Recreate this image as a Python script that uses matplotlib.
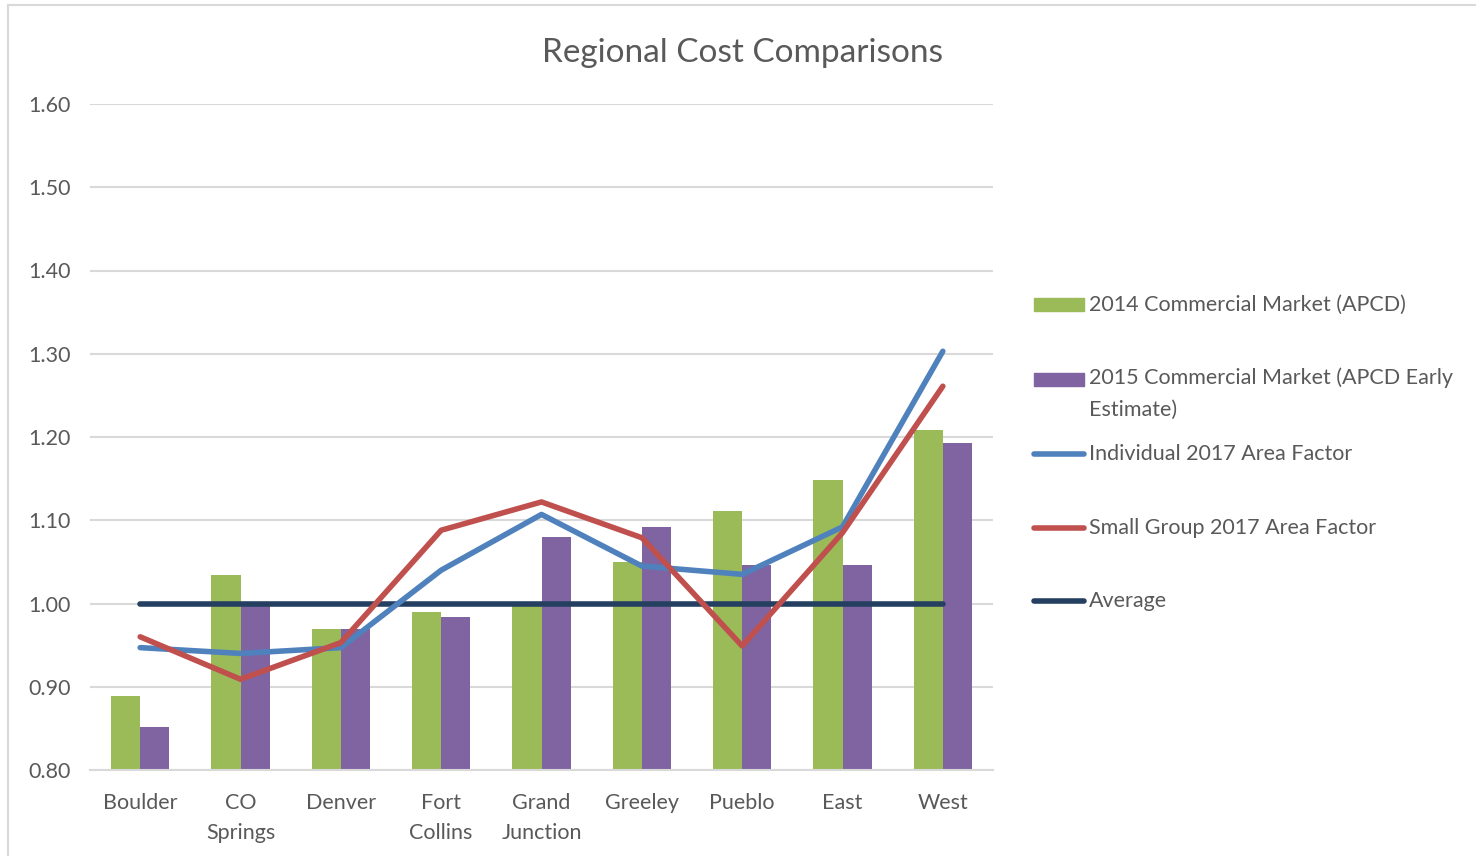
import matplotlib.pyplot as plt
import numpy as np
from matplotlib.lines import Line2D
from matplotlib.patches import Rectangle

plt.rcParams['font.family'] = ['Lato', 'DejaVu Sans']

regions = ['Boulder', 'CO\nSprings', 'Denver', 'Fort\nCollins', 'Grand\nJunction',
           'Greeley', 'Pueblo', 'East', 'West']
market_2014 = [0.889, 1.034, 0.969, 0.990, 1.000, 1.050, 1.111, 1.148, 1.208]
market_2015 = [0.852, 1.000, 0.969, 0.984, 1.080, 1.092, 1.046, 1.046, 1.193]
individual_2017 = [0.947, 0.940, 0.947, 1.040, 1.107, 1.045, 1.035, 1.092, 1.303]
small_group_2017 = [0.960, 0.909, 0.953, 1.088, 1.122, 1.079, 0.949, 1.085, 1.261]
average = [1.0] * 9

green = '#9BBB59'
purple = '#8064A2'
blue = '#4F81BD'
red = '#C0504D'
navy = '#243F60'
txt = '#595959'

fig = plt.figure(figsize=(14.76, 8.56), dpi=100)
ax = fig.add_axes([90 / 1476, 1 - 770 / 856, 903 / 1476, 666 / 856])

x = np.arange(len(regions))
w = 0.29
ax.bar(x - w / 2, market_2014, w, color=green, zorder=2)
ax.bar(x + w / 2, market_2015, w, color=purple, zorder=2)
ax.plot(x, average, color=navy, lw=4, solid_capstyle='round', zorder=3)
ax.plot(x, individual_2017, color=blue, lw=4, solid_capstyle='round', zorder=4)
ax.plot(x, small_group_2017, color=red, lw=4, solid_capstyle='round', zorder=5)

ax.set_xlim(-0.5, 8.5)
ax.set_ylim(0.8, 1.6)
yt = np.arange(0.8, 1.61, 0.1)
ax.set_yticks(yt)
ax.set_yticklabels([f'{v:.2f}' for v in yt])
ax.set_xticks(x)
ax.set_xticklabels(regions, linespacing=1.65)
ax.tick_params(length=0, labelsize=15.5, colors=txt)
ax.tick_params(axis='y', pad=14)
ax.tick_params(axis='x', pad=16.5)
ax.grid(axis='y', color='#D9D9D9', lw=1.5, zorder=0)
for s in ['top', 'right', 'left']:
    ax.spines[s].set_visible(False)
ax.spines['bottom'].set_color('#D9D9D9')
ax.spines['bottom'].set_linewidth(1.5)

fig.text(743 / 1476, 1 - 53 / 856, 'Regional Cost Comparisons', ha='center', va='center',
         fontsize=24, color=txt)

# legend drawn by hand to keep Excel spacing
entries = [
    ('bar', green, '2014 Commercial Market (APCD)', 305),
    ('bar', purple, '2015 Commercial Market (APCD Early\nEstimate)', 380),
    ('line', blue, 'Individual 2017 Area Factor', 454),
    ('line', red, 'Small Group 2017 Area Factor', 528),
    ('line', navy, 'Average', 601),
]
for kind, col, label, ypx in entries:
    yf = 1 - ypx / 856
    if kind == 'bar':
        fig.add_artist(Rectangle((1034 / 1476, yf - 6 / 856), 50 / 1476, 13 / 856,
                                 color=col, transform=fig.transFigure))
    else:
        fig.add_artist(Line2D([1034 / 1476, 1084 / 1476], [yf, yf], color=col, lw=4,
                              solid_capstyle='round', transform=fig.transFigure))
    if '\n' in label:
        fig.text(1089 / 1476, yf + 13 / 856, label, ha='left', va='top',
                 fontsize=15.5, color=txt, linespacing=1.75)
    else:
        fig.text(1089 / 1476, yf, label, ha='left', va='center', fontsize=15.5, color=txt)

# outer chart frame
fig.add_artist(Line2D([8 / 1476, 1], [1 - 5 / 856, 1 - 5 / 856], color='#D9D9D9', lw=1.5,
                      transform=fig.transFigure))
fig.add_artist(Line2D([8 / 1476, 8 / 1476], [0, 1 - 5 / 856], color='#D9D9D9', lw=1.5,
                      transform=fig.transFigure))

fig.savefig('out.png', dpi=100)
